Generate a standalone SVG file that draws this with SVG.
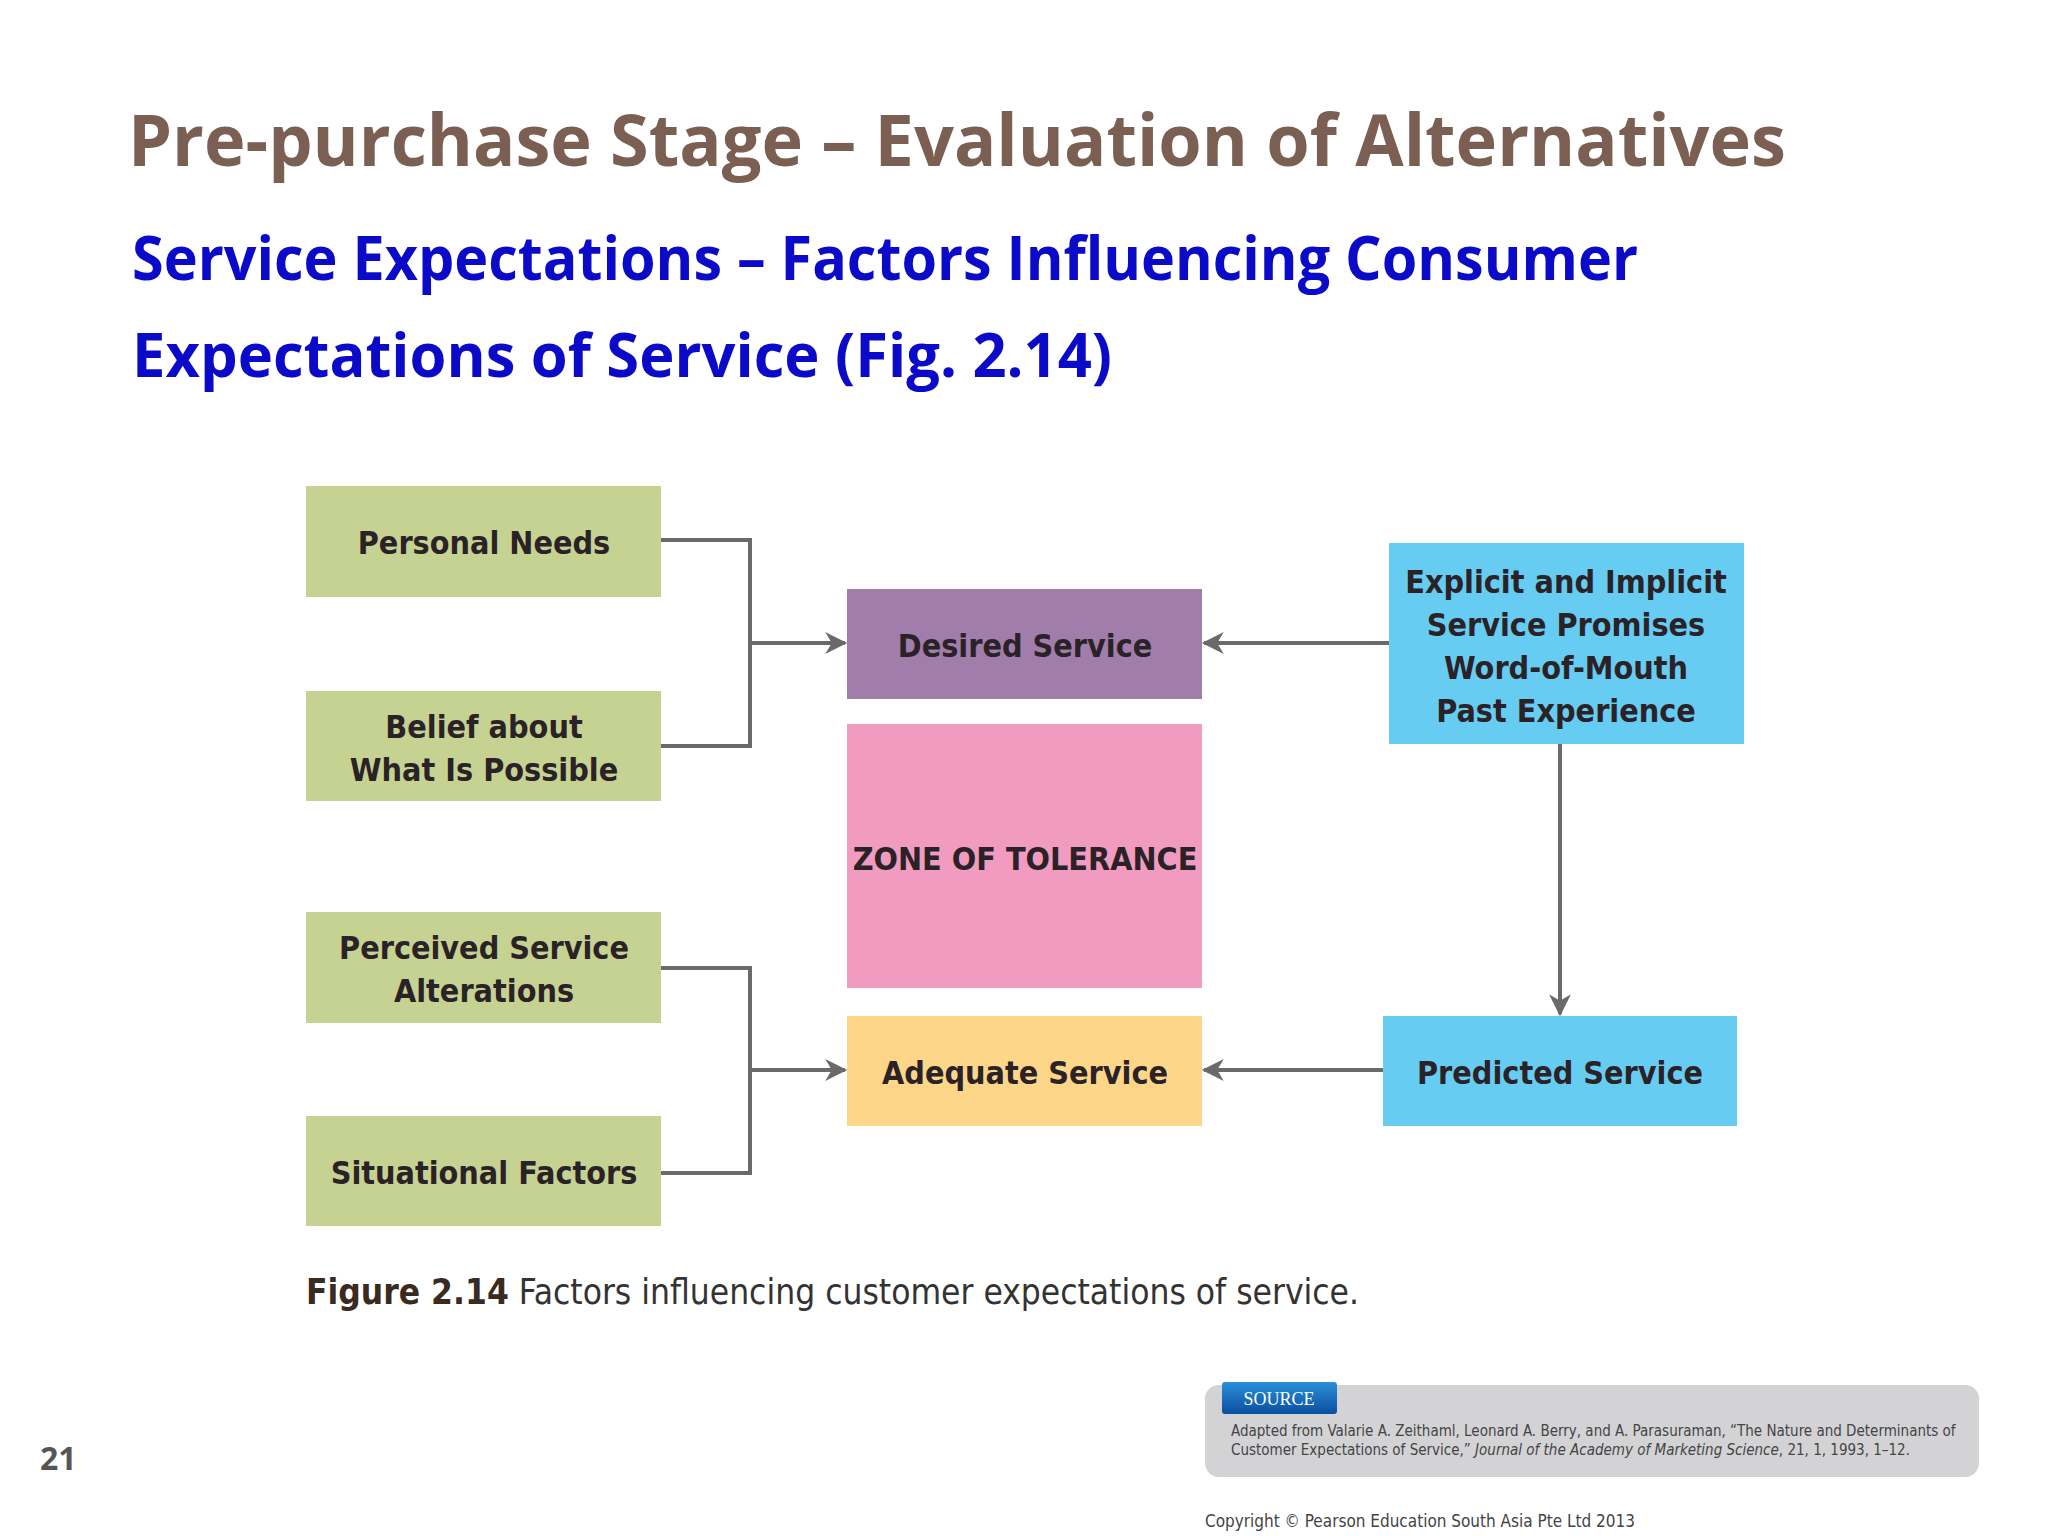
<svg xmlns="http://www.w3.org/2000/svg" width="2048" height="1536" viewBox="0 0 2048 1536">
<style>
.bx text{font-family:"DejaVu Sans Condensed","DejaVu Sans",sans-serif;font-weight:bold;font-size:32px;fill:#2a2226;text-anchor:middle}
.g{fill:#c5d291}
.ln{stroke:#6a6a6a;stroke-width:4;fill:none}
</style>
<defs><marker id="ah" viewBox="0 0 10 10" refX="9" refY="5" markerWidth="7" markerHeight="7" markerUnits="userSpaceOnUse" orient="auto"><path d="M0,0L10,5L0,10L3,5Z" fill="#6a6a6a"/></marker>
<marker id="a2" viewBox="0 0 10 10" refX="9" refY="5" markerWidth="28" markerHeight="22" markerUnits="userSpaceOnUse" orient="auto"><path d="M0,0L10,5L0,10L3,5Z" fill="#6a6a6a"/></marker>
<linearGradient id="tab" x1="0" y1="0" x2="0" y2="1"><stop offset="0" stop-color="#2a8fd8"/><stop offset="1" stop-color="#0a4fa0"/></linearGradient></defs>
<rect width="2048" height="1536" fill="#fff"/>
<text x="128" y="166" font-family="'Open Sans',sans-serif" font-weight="bold" font-size="72" fill="#7a5f52" textLength="1658" lengthAdjust="spacingAndGlyphs">Pre-purchase Stage – Evaluation of Alternatives</text>
<text x="132" y="280" font-family="'Open Sans',sans-serif" font-weight="bold" font-size="60" fill="#0a0ac8" textLength="1506" lengthAdjust="spacingAndGlyphs">Service Expectations – Factors Influencing Consumer</text>
<text x="132" y="377" font-family="'Open Sans',sans-serif" font-weight="bold" font-size="60" fill="#0a0ac8" textLength="980" lengthAdjust="spacingAndGlyphs">Expectations of Service (Fig. 2.14)</text>
<g id="connectors">
<path class="ln" d="M661,540H750V746H661"/>
<path class="ln" d="M750,643H845" marker-end="url(#a2)"/>
<path class="ln" d="M661,968H750V1173H661"/>
<path class="ln" d="M750,1070H845" marker-end="url(#a2)"/>
<path class="ln" d="M1389,643H1204" marker-end="url(#a2)"/>
<path class="ln" d="M1383,1070H1204" marker-end="url(#a2)"/>
<path class="ln" d="M1560,744V1014" marker-end="url(#a2)"/>
</g>
<g class="bx">
<g id="personal"><rect class="g" x="306" y="486" width="355" height="111"/><text x="484" y="554">Personal Needs</text></g>
<g id="belief"><rect class="g" x="306" y="691" width="355" height="110"/><text x="484" y="738">Belief about</text><text x="484" y="781">What Is Possible</text></g>
<g id="perceived"><rect class="g" x="306" y="912" width="355" height="111"/><text x="484" y="959">Perceived Service</text><text x="484" y="1002">Alterations</text></g>
<g id="situational"><rect class="g" x="306" y="1116" width="355" height="110"/><text x="484" y="1184">Situational Factors</text></g>
<g id="desired"><rect fill="#a07dab" x="847" y="589" width="355" height="110"/><text x="1025" y="657">Desired Service</text></g>
<g id="zone"><rect fill="#f29bc0" x="847" y="724" width="355" height="264"/><text x="1025" y="870">ZONE OF TOLERANCE</text></g>
<g id="adequate"><rect fill="#fdd68a" x="847" y="1016" width="355" height="110"/><text x="1025" y="1084">Adequate Service</text></g>
<g id="explicit"><rect fill="#66ccf2" x="1389" y="543" width="355" height="201"/><text x="1566" y="593">Explicit and Implicit</text><text x="1566" y="636">Service Promises</text><text x="1566" y="679">Word-of-Mouth</text><text x="1566" y="722">Past Experience</text></g>
<g id="predicted"><rect fill="#66ccf2" x="1383" y="1016" width="354" height="110"/><text x="1560" y="1084">Predicted Service</text></g>
</g>
<text x="306" y="1304" font-family="'DejaVu Sans Condensed',sans-serif" font-size="35" fill="#333"><tspan font-weight="bold" fill="#3a2a20">Figure 2.14</tspan>  Factors influencing customer expectations of service.</text>
<rect x="1205" y="1385" width="774" height="92" rx="14" fill="#d3d3d6"/>
<rect x="1222" y="1382" width="115" height="32" rx="3" fill="url(#tab)"/>
<text x="1279" y="1405" text-anchor="middle" font-family="'Liberation Serif',serif" font-size="18" fill="#fff">SOURCE</text>
<text x="1231" y="1436" font-family="'DejaVu Sans Condensed',sans-serif" font-size="15" fill="#444">Adapted from Valarie A. Zeithaml, Leonard A. Berry, and A. Parasuraman, “The Nature and Determinants of</text>
<text x="1231" y="1455" font-family="'DejaVu Sans Condensed',sans-serif" font-size="15" fill="#444">Customer Expectations of Service,” <tspan font-style="italic">Journal of the Academy of Marketing Science</tspan>, 21, 1, 1993, 1–12.</text>
<text x="1205" y="1527" font-family="'DejaVu Sans Condensed',sans-serif" font-size="17" fill="#444">Copyright © Pearson Education South Asia Pte Ltd 2013</text>
<text x="40" y="1470" font-family="'Open Sans',sans-serif" font-weight="bold" font-size="32" fill="#555">21</text>
</svg>
